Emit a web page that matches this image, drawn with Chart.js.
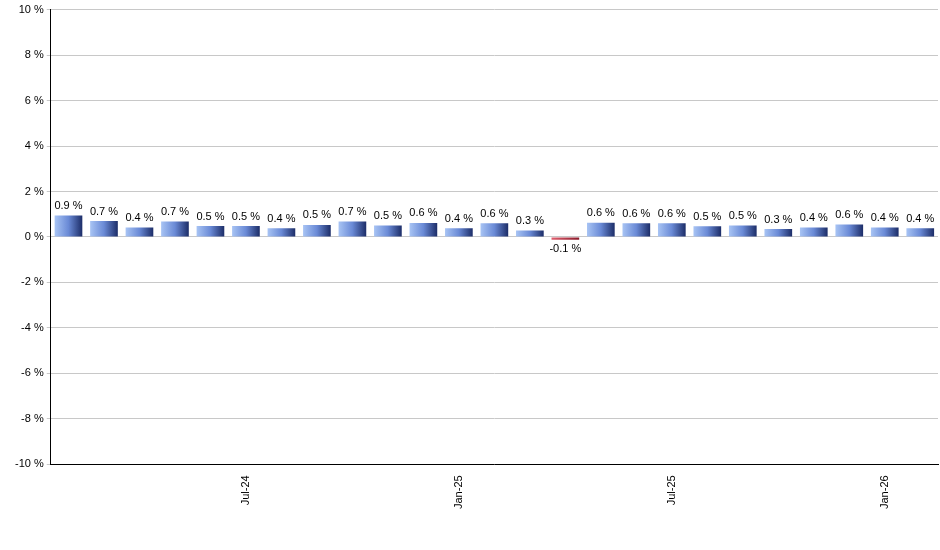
<!DOCTYPE html>
<html><head><meta charset="utf-8">
<script src="https://cdn.jsdelivr.net/npm/chart.js@4/dist/chart.umd.min.js"></script>
<style>body{margin:0;background:#fff}#wrap{width:940px;height:550px}</style>
</head><body><div id="wrap"><canvas id="c"></canvas></div>
<script>
const months = ['Feb-24','Mar-24','Apr-24','May-24','Jun-24','Jul-24','Aug-24','Sep-24','Oct-24','Nov-24','Dec-24','Jan-25','Feb-25','Mar-25','Apr-25','May-25','Jun-25','Jul-25','Aug-25','Sep-25','Oct-25','Nov-25','Dec-25','Jan-26','Feb-26']
const values = [0.95,0.7,0.42,0.68,0.48,0.48,0.38,0.53,0.68,0.5,0.62,0.38,0.6,0.28,-0.12,0.63,0.6,0.6,0.47,0.5,0.35,0.42,0.55,0.42,0.38]
const shown = ['0.9','0.7','0.4','0.7','0.5','0.5','0.4','0.5','0.7','0.5','0.6','0.4','0.6','0.3','-0.1','0.6','0.6','0.6','0.5','0.5','0.3','0.4','0.6','0.4','0.4']
const catPct = 0.78

function grad(ctx){
  const v = values[ctx.dataIndex]
  const xs = ctx.chart.scales.x
  const c = ctx.chart.ctx
  if(!xs || !xs.width) return v < 0 ? '#b03040' : '#6f8fd8'
  const cx = xs.getPixelForValue(ctx.dataIndex)
  const w = xs.width / months.length * catPct
  const g = c.createLinearGradient(cx - w/2, 0, cx + w/2, 0)
  if(v < 0){ g.addColorStop(0,'#e06070'); g.addColorStop(1,'#8a1a2a') }
  else { g.addColorStop(0,'#a8c4f4'); g.addColorStop(0.5,'#6a8ad6'); g.addColorStop(1,'#1c2d68') }
  return g
}

const labelPlugin = {
  id:'vals',
  afterDatasetsDraw(chart){
    const c = chart.ctx
    c.save(); c.font='11px Arial'; c.fillStyle='#000'; c.textAlign='center'
    chart.getDatasetMeta(0).data.forEach((b,i)=>{
      if(values[i] >= 0){ c.textBaseline='bottom'; c.fillText(shown[i]+' %', b.x, b.y-4) }
      else { c.textBaseline='top'; c.fillText(shown[i]+' %', b.x, b.y+4) }
    })
    c.restore()
  }
}

new Chart(document.getElementById('c'), {
  type:'bar',
  data:{ labels: months, datasets:[{ data: values, backgroundColor: grad, categoryPercentage: catPct, barPercentage: 1 }] },
  options:{
    responsive:true, maintainAspectRatio:false, animation:false,
    layout:{ padding:{ top:4, right:2, left:12, bottom:38 } },
    plugins:{ legend:{display:false}, tooltip:{enabled:false} },
    scales:{
      x:{ grid:{display:false}, border:{color:'#000'},
        ticks:{ autoSkip:false, maxRotation:90, minRotation:90, color:'#000', font:{family:'Arial', size:11},
          callback:(v,i)=> /^(Jan|Jul)/.test(months[i]) ? months[i] : '' } },
      y:{ min:-10, max:10, border:{color:'#000'},
        grid:{ color:'#c8c8c8', tickLength:4 },
        ticks:{ stepSize:2, color:'#000', font:{family:'Arial', size:11}, callback:v=>v+' %' } }
    }
  },
  plugins:[labelPlugin]
})
</script></body></html>
